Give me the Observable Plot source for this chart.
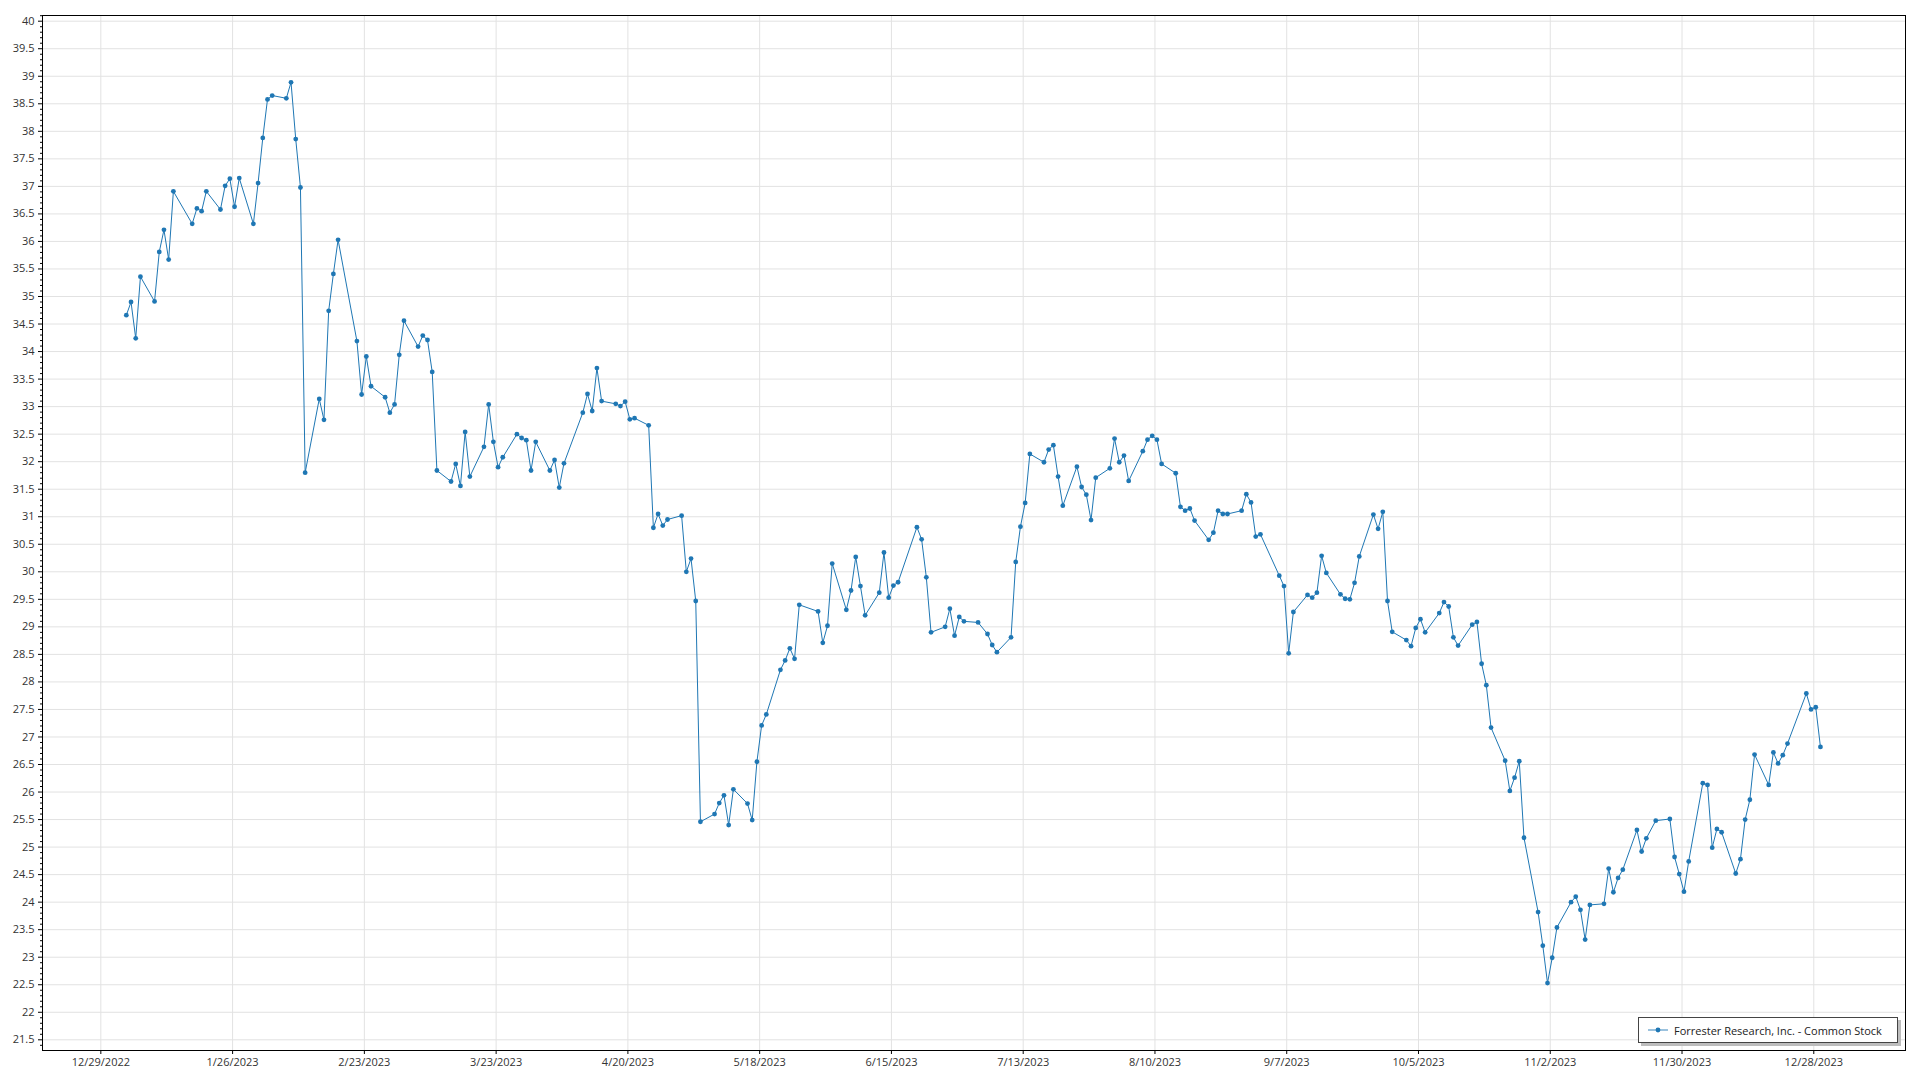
<!DOCTYPE html>
<html>
<head>
<meta charset="utf-8">
<script src="https://cdn.jsdelivr.net/npm/d3@7"></script>
<script src="https://cdn.jsdelivr.net/npm/@observablehq/plot@0.6"></script>
<style>
  html, body { margin: 0; padding: 0; background: #fff; }
  #wrap { position: relative; width: 1920px; height: 1080px; }
  #legend {
    position: absolute; left: 1638px; top: 1017px; width: 258px; height: 24px;
    border: 1px solid #444; background: #fff; box-shadow: 3px 3px 0 #bdbdbd;
    font-family: "Segoe UI", "Open Sans", sans-serif; font-size: 11px; color: #222;
    display: flex; align-items: center; box-sizing: content-box;
  }
  #legend svg { margin-left: 9px; margin-right: 6px; }
</style>
</head>
<body>
<div id="wrap">
  <div id="chart"></div>
  <div id="legend"><svg width="20" height="8"><line x1="0" y1="4" x2="20" y2="4" stroke="#1f77b4" stroke-opacity="0.6" stroke-width="1.5"/><circle cx="10" cy="4" r="2.4" fill="#1f77b4"/></svg><span id="legendText"></span></div>
</div>
<script>
const seriesName = "Forrester Research, Inc. - Common Stock";

const dates = [
"2023-01-03","2023-01-04","2023-01-05","2023-01-06","2023-01-09","2023-01-10","2023-01-11","2023-01-12","2023-01-13","2023-01-17","2023-01-18","2023-01-19","2023-01-20","2023-01-23","2023-01-24","2023-01-25","2023-01-26","2023-01-27","2023-01-30","2023-01-31",
"2023-02-01","2023-02-02","2023-02-03","2023-02-06","2023-02-07","2023-02-08","2023-02-09","2023-02-10","2023-02-13","2023-02-14","2023-02-15","2023-02-16","2023-02-17","2023-02-21","2023-02-22","2023-02-23","2023-02-24","2023-02-27","2023-02-28",
"2023-03-01","2023-03-02","2023-03-03","2023-03-06","2023-03-07","2023-03-08","2023-03-09","2023-03-10","2023-03-13","2023-03-14","2023-03-15","2023-03-16","2023-03-17","2023-03-20","2023-03-21","2023-03-22","2023-03-23","2023-03-24","2023-03-27","2023-03-28","2023-03-29","2023-03-30","2023-03-31",
"2023-04-03","2023-04-04","2023-04-05","2023-04-06","2023-04-10","2023-04-11","2023-04-12","2023-04-13","2023-04-14","2023-04-17","2023-04-18","2023-04-19","2023-04-20","2023-04-21","2023-04-24","2023-04-25","2023-04-26","2023-04-27","2023-04-28",
"2023-05-01","2023-05-02","2023-05-03","2023-05-04","2023-05-05","2023-05-08","2023-05-09","2023-05-10","2023-05-11","2023-05-12","2023-05-15","2023-05-16","2023-05-17","2023-05-18","2023-05-19","2023-05-22","2023-05-23","2023-05-24","2023-05-25","2023-05-26","2023-05-30","2023-05-31",
"2023-06-01","2023-06-02","2023-06-05","2023-06-06","2023-06-07","2023-06-08","2023-06-09","2023-06-12","2023-06-13","2023-06-14","2023-06-15","2023-06-16","2023-06-20","2023-06-21","2023-06-22","2023-06-23","2023-06-26","2023-06-27","2023-06-28","2023-06-29","2023-06-30",
"2023-07-03","2023-07-05","2023-07-06","2023-07-07","2023-07-10","2023-07-11","2023-07-12","2023-07-13","2023-07-14","2023-07-17","2023-07-18","2023-07-19","2023-07-20","2023-07-21","2023-07-24","2023-07-25","2023-07-26","2023-07-27","2023-07-28","2023-07-31",
"2023-08-01","2023-08-02","2023-08-03","2023-08-04","2023-08-07","2023-08-08","2023-08-09","2023-08-10","2023-08-11","2023-08-14","2023-08-15","2023-08-16","2023-08-17","2023-08-18","2023-08-21","2023-08-22","2023-08-23","2023-08-24","2023-08-25","2023-08-28","2023-08-29","2023-08-30","2023-08-31",
"2023-09-01","2023-09-05","2023-09-06","2023-09-07","2023-09-08","2023-09-11","2023-09-12","2023-09-13","2023-09-14","2023-09-15","2023-09-18","2023-09-19","2023-09-20","2023-09-21","2023-09-22","2023-09-25","2023-09-26","2023-09-27","2023-09-28","2023-09-29",
"2023-10-02","2023-10-03","2023-10-04","2023-10-05","2023-10-06","2023-10-09","2023-10-10","2023-10-11","2023-10-12","2023-10-13","2023-10-16","2023-10-17","2023-10-18","2023-10-19","2023-10-20","2023-10-23","2023-10-24","2023-10-25","2023-10-26","2023-10-27","2023-10-30","2023-10-31",
"2023-11-01","2023-11-02","2023-11-03","2023-11-06","2023-11-07","2023-11-08","2023-11-09","2023-11-10","2023-11-13","2023-11-14","2023-11-15","2023-11-16","2023-11-17","2023-11-20","2023-11-21","2023-11-22","2023-11-24","2023-11-27","2023-11-28","2023-11-29","2023-11-30",
"2023-12-01","2023-12-04","2023-12-05","2023-12-06","2023-12-07","2023-12-08","2023-12-11","2023-12-12","2023-12-13","2023-12-14","2023-12-15","2023-12-18","2023-12-19","2023-12-20","2023-12-21","2023-12-22","2023-12-26","2023-12-27","2023-12-28","2023-12-29"
];

const closes = [
34.66,34.90,34.24,35.36,34.91,35.81,36.21,35.67,36.91,36.32,36.60,36.55,36.91,36.58,37.01,37.14,36.63,37.15,36.32,37.06,
37.88,38.58,38.65,38.60,38.89,37.86,36.98,31.80,33.14,32.76,34.74,35.41,36.03,34.19,33.22,33.91,33.37,33.17,32.89,
33.04,33.94,34.56,34.09,34.29,34.21,33.63,31.84,31.64,31.96,31.56,32.54,31.73,32.27,33.04,32.36,31.90,32.08,32.50,32.43,32.39,31.84,32.36,
31.84,32.03,31.53,31.97,32.89,33.23,32.92,33.70,33.10,33.05,33.01,33.09,32.77,32.79,32.66,30.80,31.05,30.84,30.95,
31.02,30.00,30.24,29.47,25.46,25.60,25.80,25.94,25.40,26.05,25.79,25.49,26.55,27.21,27.41,28.22,28.39,28.61,28.42,29.40,29.28,28.71,
29.02,30.15,29.31,29.66,30.27,29.74,29.21,29.62,30.35,29.53,29.75,29.81,30.81,30.59,29.90,28.90,29.00,29.33,28.84,29.18,29.10,
29.08,28.87,28.67,28.54,28.81,30.18,30.82,31.25,32.14,31.99,32.22,32.30,31.73,31.20,31.91,31.54,31.40,30.94,31.71,31.88,
32.42,31.99,32.11,31.65,32.19,32.40,32.47,32.40,31.96,31.79,31.18,31.11,31.15,30.93,30.58,30.71,31.11,31.05,31.05,31.11,31.41,31.26,30.64,
30.68,29.93,29.74,28.52,29.27,29.58,29.53,29.62,30.29,29.98,29.59,29.51,29.50,29.80,30.28,31.04,30.78,31.09,29.47,28.91,
28.76,28.65,28.98,29.14,28.90,29.25,29.45,29.37,28.81,28.66,29.04,29.09,28.33,27.94,27.17,26.57,26.02,26.26,26.56,25.17,23.82,23.21,
22.53,22.99,23.54,24.00,24.10,23.86,23.32,23.95,23.97,24.61,24.18,24.44,24.59,25.31,24.92,25.16,25.48,25.51,24.82,24.51,24.19,
24.74,26.16,26.13,24.99,25.33,25.27,24.52,24.78,25.50,25.86,26.68,26.13,26.72,26.52,26.67,26.88,27.79,27.50,27.54,26.82
];

// x-axis tick labels (every 28 days)
const xTickLabels = ["12/29/2022","1/26/2023","2/23/2023","3/23/2023","4/20/2023","5/18/2023","6/15/2023","7/13/2023","8/10/2023","9/7/2023","10/5/2023","11/2/2023","11/30/2023","12/28/2023"];

// y-axis ticks
const yTicks = d3.range(21.5, 40.001, 0.5).map(v => +v.toFixed(1));
const yMinorTicks = d3.range(21.4, 40.101, 0.1).map(v => +v.toFixed(1)).filter(v => Math.abs(v * 2 - Math.round(v * 2)) > 1e-6);

const parseTick = d3.utcParse("%m/%d/%Y");
const xTicks = xTickLabels.map(s => parseTick(s));
const fmtTick = d3.utcFormat("%-m/%-d/%Y");

const data = dates.map((d, i) => ({date: new Date(d + "T10:00:00Z"), close: closes[i]}));

const DAY = 86400000;
const xDomain = [new Date(+xTicks[0] - 12.395 * DAY), new Date(+xTicks[xTicks.length - 1] + 19.49 * DAY)];

const color = "#1f77b4";
const chart = Plot.plot({
  width: 1920,
  height: 1080,
  marginLeft: 42,
  marginRight: 15,
  marginTop: 15,
  marginBottom: 30,
  style: {fontFamily: "'Segoe UI', 'Open Sans', sans-serif", fontSize: "11px", color: "#333", background: "#fff"},
  x: {type: "utc", domain: xDomain, label: null},
  y: {domain: [21.3057, 40.1035], label: null},
  marks: [
    Plot.gridY(yTicks, {stroke: "#e2e2e2", strokeOpacity: 1}),
    Plot.gridX(xTicks, {stroke: "#e2e2e2", strokeOpacity: 1}),
    Plot.axisY(yMinorTicks, {tickSize: 2, text: null, label: null, stroke: "#000"}),
    Plot.axisY(yTicks, {tickSize: 4, tickPadding: 4, tickFormat: d => String(d), label: null, stroke: "#000", fill: "#333"}),
    Plot.axisX(xTicks, {tickSize: 4, tickPadding: 4, tickFormat: fmtTick, label: null, stroke: "#000", fill: "#333"}),
    Plot.line(data, {x: "date", y: "close", stroke: color, strokeWidth: 1}),
    Plot.dot(data, {x: "date", y: "close", r: 2.4, fill: color}),
    Plot.frame({stroke: "#000", strokeWidth: 1})
  ]
});
document.getElementById("chart").appendChild(chart);
document.getElementById("legendText").textContent = seriesName;
</script>
</body>
</html>
